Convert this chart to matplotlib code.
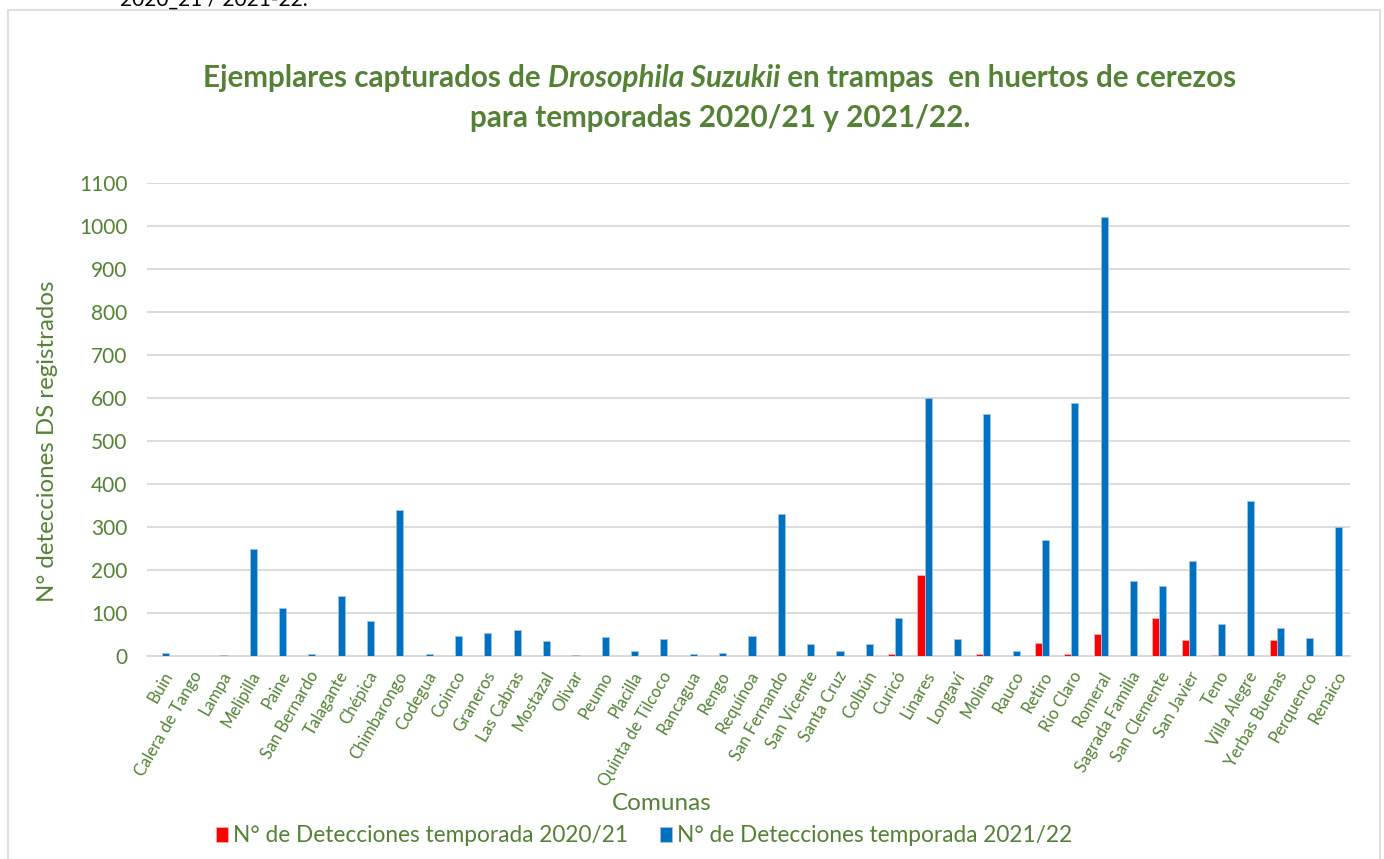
import matplotlib
matplotlib.use("Agg")
import matplotlib.pyplot as plt
import numpy as np
from matplotlib.patches import Rectangle

comunas = ["Buin", "Calera de Tango", "Lampa", "Melipilla", "Paine", "San Bernardo",
           "Talagante", "Chépica", "Chimbarongo", "Codegua", "Coinco", "Graneros",
           "Las Cabras", "Mostazal", "Olivar", "Peumo", "Placilla", "Quinta de Tilcoco",
           "Rancagua", "Rengo", "Requínoa", "San Fernando", "San Vicente", "Santa Cruz",
           "Colbún", "Curicó", "Linares", "Longaví", "Molina", "Rauco", "Retiro",
           "Rio Claro", "Romeral", "Sagrada Familia", "San Clemente", "San Javier",
           "Teno", "Villa Alegre", "Yerbas Buenas", "Perquenco", "Renaico"]

t2020 = [0, 0, 0, 0, 0, 0, 0, 0, 0, 0, 0, 0, 0, 0, 0, 0, 0, 0, 0, 0, 0,
         0, 0, 0, 0, 4, 188, 0, 5, 0, 31, 4, 51, 0, 88, 38, 2, 0, 37, 0, 0]
t2021 = [7, 0, 3, 248, 111, 4, 140, 81, 340, 4, 46, 54, 60, 35, 3, 44, 12, 39,
         4, 6, 47, 330, 28, 12, 28, 88, 600, 39, 563, 12, 270, 588, 1022, 174,
         163, 220, 74, 360, 64, 43, 300]

green = "#548235"
plt.rcParams["font.family"] = ["Lato", "DejaVu Sans"]

fig = plt.figure(figsize=(13.84, 8.59), dpi=100)
ax = fig.add_axes([0.1062, 0.2363, 0.8692, 0.5507])

x = np.arange(len(comunas))
w = 0.24
ax.bar(x - w / 2, t2020, w, color="#FF0000", edgecolor="#FFB3B3", linewidth=0.6,
       label="N° de Detecciones temporada 2020/21", zorder=3)
ax.bar(x + w / 2, t2021, w, color="#0070C0", edgecolor="#9DC3E6", linewidth=0.6,
       label="N° de Detecciones temporada 2021/22", zorder=3)

ax.set_xlim(-0.5, len(comunas) - 0.5)
ax.set_ylim(0, 1100)
ax.set_yticks(np.arange(0, 1101, 100))
ax.yaxis.grid(True, color="#D9D9D9", linewidth=1.3, zorder=0)
for s in ["top", "right", "left"]:
    ax.spines[s].set_visible(False)
ax.spines["bottom"].set_color("#D9D9D9")
ax.spines["bottom"].set_linewidth(1.3)
ax.tick_params(axis="both", length=0, colors=green)
ax.tick_params(axis="y", labelsize=15, pad=14)
ax.set_xticks(x)
ax.set_xticklabels(comunas, rotation=60, ha="right", rotation_mode="anchor",
                   fontsize=12, color=green)
ax.tick_params(axis="x", pad=9)

fig.text(48 / 1384, 1 - 441 / 859, "N° detecciones DS registrados", fontsize=17.3,
         color=green, rotation=90, ha="center", va="center")
fig.text(662 / 1384, 1 - 803 / 859, "Comunas", fontsize=17.5, color=green,
         ha="center", va="center")

# title, first line has an italic part
tsize = 21.3
parts = [("Ejemplares capturados de ", "normal"), ("Drosophila Suzukii", "italic"),
         (" en trampas  en huertos de cerezos", "normal")]
texts = [fig.text(0, 1 - 78 / 859, s, fontsize=tsize, fontweight="bold", style=st,
                  color=green, ha="left", va="center") for s, st in parts]
fig.canvas.draw()
r = fig.canvas.get_renderer()
widths = [t.get_window_extent(r).width for t in texts]
xpos = 720 - sum(widths) / 2
for t, wd in zip(texts, widths):
    t.set_x(xpos / 1384)
    xpos += wd
fig.text(720 / 1384, 1 - 118 / 859, "para temporadas 2020/21 y 2021/22.",
         fontsize=tsize, fontweight="bold", color=green, ha="center", va="center")

fig.legend(loc="center", bbox_to_anchor=(644 / 1384, 1 - 836 / 859), ncol=2, frameon=False,
           fontsize=16.3, labelcolor=green, handlelength=0.55, handleheight=0.6,
           handletextpad=0.2, columnspacing=1.4)

fig.text(0.087, 1.0, "2020_21 / 2021-22.", fontsize=15, color="black",
         ha="left", va="center")
fig.patches.append(Rectangle((8 / 1384, -0.05), 1372 / 1384, 1.05 - 10 / 859,
                             transform=fig.transFigure, fill=False,
                             edgecolor="#D9D9D9", linewidth=1.2))

fig.savefig("out.png", dpi=100)
